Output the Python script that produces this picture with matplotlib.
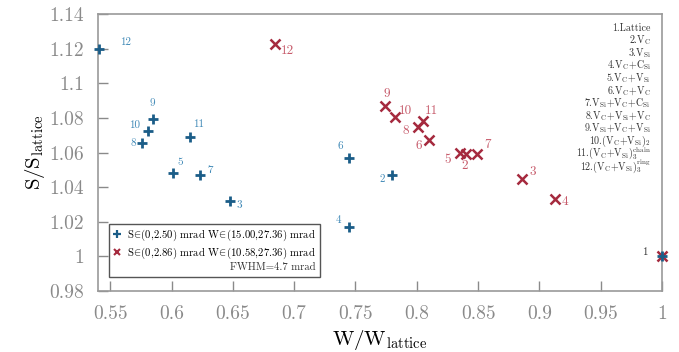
import matplotlib
matplotlib.use('Agg')
import matplotlib.pyplot as plt
from matplotlib.lines import Line2D

plt.rcParams['font.family'] = ['cmr10', 'DejaVu Serif']
plt.rcParams['mathtext.fontset'] = 'cm'
plt.rcParams['axes.formatter.use_mathtext'] = True

# W/W_lattice and S/S_lattice for the 12 configurations
w_blue = [1.000, 0.780, 0.648, 0.745, 0.601, 0.745, 0.623, 0.576, 0.585, 0.581, 0.615, 0.541]
s_blue = [1.000, 1.047, 1.032, 1.017, 1.048, 1.057, 1.047, 1.0655, 1.0795, 1.0725, 1.069, 1.120]
w_red = [1.000, 0.840, 0.886, 0.913, 0.835, 0.810, 0.849, 0.801, 0.774, 0.782, 0.805, 0.684]
s_red = [1.000, 1.059, 1.045, 1.033, 1.0597, 1.067, 1.059, 1.0747, 1.0868, 1.0805, 1.078, 1.1226]
ids = [str(i) for i in range(1, 13)]

configs = ['1.Lattice', r'2.V$_\mathrm{C}$', r'3.V$_\mathrm{Si}$',
           r'4.V$_\mathrm{C}$+C$_\mathrm{Si}$', r'5.V$_\mathrm{C}$+V$_\mathrm{Si}$',
           r'6.V$_\mathrm{C}$+V$_\mathrm{C}$', r'7.V$_\mathrm{Si}$+V$_\mathrm{C}$+C$_\mathrm{Si}$',
           r'8.V$_\mathrm{C}$+V$_\mathrm{Si}$+V$_\mathrm{C}$',
           r'9.V$_\mathrm{Si}$+V$_\mathrm{C}$+V$_\mathrm{Si}$',
           r'10.(V$_\mathrm{C}$+V$_\mathrm{Si}$)$_\mathrm{2}$',
           r'11.(V$_\mathrm{C}$+V$_\mathrm{Si}$)$_\mathrm{3}^\mathrm{chain}$',
           r'12.(V$_\mathrm{C}$+V$_\mathrm{Si}$)$_\mathrm{3}^\mathrm{ring}$']

xticks = [0.55, 0.6, 0.65, 0.7, 0.75, 0.8, 0.85, 0.9, 0.95, 1.0]
xticklabels = ['0.55', '0.6', '0.65', '0.7', '0.75', '0.8', '0.85', '0.9', '0.95', '1']
yticks = [0.98, 1.0, 1.02, 1.04, 1.06, 1.08, 1.1, 1.12, 1.14]
yticklabels = ['0.98', '1', '1.02', '1.04', '1.06', '1.08', '1.1', '1.12', '1.14']

# label offsets in pixels
off_blue = [(-17, 4), (-10, -4), (9, -4), (-11, 7), (7, 11), (-9, 11), (10, 5),
            (-9, 0), (-1, 16), (-14, 6), (9, 13), (26, 6)]
off_red = [None, (-1, -12), (11, 7), (10, -3), (-12, -7), (-10, -6), (11, 9),
           (-12, -4), (2, 12), (11, 6), (9, 10), (13, -7)]

c_blue = '#1b5d88'
c_red = '#a52a3e'
c_blue_lbl = '#3e88b6'
c_red_lbl = '#c75b6b'
grey = '#8a8a8a'

fig = plt.figure(figsize=(6.79, 3.52), dpi=100)
ax = fig.add_axes([0.1443, 0.1733, 0.8307, 0.7867])

ax.plot(w_red, s_red, 'x', color=c_red, ms=6.5, mew=1.8, clip_on=False, zorder=3)
ax.plot(w_blue, s_blue, '+', color=c_blue, ms=7.5, mew=2.0, clip_on=False, zorder=4)

for i in range(12):
    col = '#333333' if i == 0 else c_blue_lbl
    ax.annotate(ids[i], (w_blue[i], s_blue[i]), xytext=off_blue[i], textcoords='offset pixels',
                ha='center', va='center', fontsize=8, color=col)
    if off_red[i] is not None:
        ax.annotate(ids[i], (w_red[i], s_red[i]), xytext=off_red[i], textcoords='offset pixels',
                    ha='center', va='center', fontsize=9.5, color=c_red_lbl)

# configuration key, one line per entry, anchored on the baseline
for k, txt in enumerate(configs):
    ax.text(0.9805, 0.9395 - k * 0.0455, txt, transform=ax.transAxes, ha='right', va='baseline',
            fontsize=7.2, color='#333333')

ax.set_xlim(0.54, 1.0)
ax.set_ylim(0.98, 1.14)
ax.set_xticks(xticks)
ax.set_xticklabels(xticklabels)
ax.set_yticks(yticks)
ax.set_yticklabels(yticklabels)
ax.tick_params(direction='in', length=7, width=1, color=grey, labelcolor=grey, labelsize=14, pad=10)
for sp in ax.spines.values():
    sp.set_color('#999999')
    sp.set_linewidth(1.2)

ax.set_xlabel(r'W/W$_{\mathrm{lattice}}$', fontsize=15, labelpad=4)
ax.set_ylabel(r'S/S$_{\mathrm{lattice}}$', fontsize=15, labelpad=2)

handles = [Line2D([], [], ls='', marker='+', color=c_blue, ms=6, mew=1.6),
           Line2D([], [], ls='', marker='x', color=c_red, ms=5, mew=1.5),
           Line2D([], [], ls='', marker='')]
labels = [r'S$\!\in\!$(0,2.50) mrad W$\!\in\!$(15.00,27.36) mrad',
          r'S$\!\in\!$(0,2.86) mrad W$\!\in\!$(10.58,27.36) mrad', ' ']
leg = ax.legend(handles, labels, loc='lower left', bbox_to_anchor=(0.02, 0.05), fontsize=7.7,
                fancybox=False, edgecolor='#555555', framealpha=1, handlelength=0.8,
                handletextpad=0.5, borderpad=0.35, labelspacing=0.25, borderaxespad=0)
leg.get_frame().set_linewidth(1.0)
ax.text(0.3865, 0.0866, 'FWHM=4.7 mrad', transform=ax.transAxes, ha='right', va='center',
        fontsize=7.7, color='#333333', zorder=10)

fig.savefig('out.png', dpi=100)
